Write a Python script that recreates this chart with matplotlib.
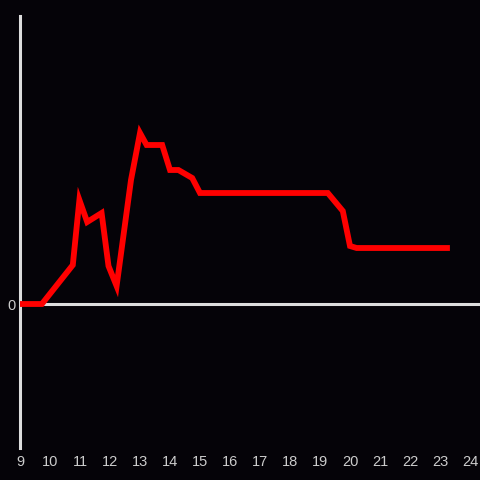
import matplotlib
matplotlib.use("Agg")
import matplotlib.pyplot as plt

x_vals = [9.0, 9.73, 10.76, 10.98, 11.24, 11.72, 11.95, 12.22, 12.7, 13.0, 13.22, 13.74,
          14.0, 14.28, 14.74, 15.0, 19.26, 19.76, 20.0, 20.22, 23.33]
y_vals = [0, 0, 39, 104, 82, 91, 38, 18, 124, 171, 159, 159,
          134, 134, 126, 111, 111, 93, 58, 56, 56]
x_ticks = list(range(9, 25))
y_ticks = [0]

bg = "#050308"
fig = plt.figure(figsize=(4.8, 4.8), dpi=100, facecolor=bg)
ax = fig.add_axes([20/480, 32/480, 460/480, 432/480], facecolor=bg)

ax.plot(x_vals, y_vals, color="#ff0000", lw=4.2, solid_joinstyle="miter",
        solid_capstyle="butt", zorder=3)
ax.axhline(0, color="#dddddd", lw=2.2, zorder=2)

ax.set_xlim(9, 9 + 460/30)
ax.set_ylim(-144, 288)
ax.set_xticks(x_ticks)
ax.set_xticklabels([str(t) for t in x_ticks])
ax.set_yticks(y_ticks)
ax.set_yticklabels([str(t) for t in y_ticks])

for s in ["top", "right", "bottom"]:
    ax.spines[s].set_visible(False)
ax.spines["left"].set_color("#dddddd")
ax.spines["left"].set_linewidth(2.2)

ax.tick_params(axis="both", length=0, colors="#cccccc", labelsize=10.5)
ax.tick_params(axis="x", pad=5)
ax.tick_params(axis="y", pad=3)
for lab in ax.get_xticklabels() + ax.get_yticklabels():
    lab.set_fontfamily("Liberation Sans")

fig.savefig("out.png", dpi=100, facecolor=bg)
